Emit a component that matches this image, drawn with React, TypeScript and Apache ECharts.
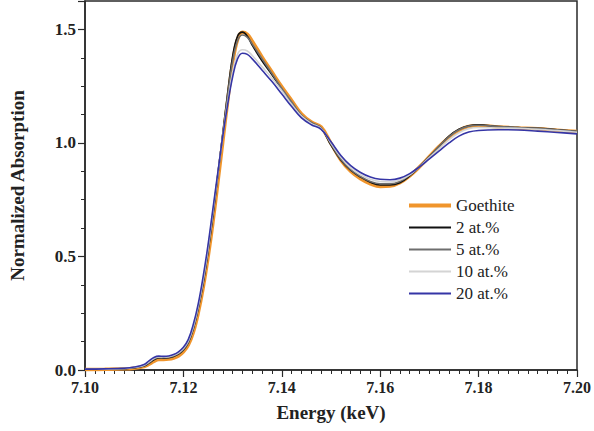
import React, { useEffect, useRef } from "react";
import * as echarts from "echarts";

const energies = [
  7.100, 7.104, 7.108, 7.110, 7.112, 7.113, 7.114, 7.115, 7.116, 7.117, 7.118, 7.119,
  7.120, 7.121, 7.122, 7.123, 7.124, 7.125, 7.126, 7.127, 7.128, 7.129, 7.130, 7.131,
  7.132, 7.133, 7.134, 7.136, 7.138, 7.140, 7.142, 7.144, 7.146, 7.148, 7.150, 7.152,
  7.154, 7.156, 7.158, 7.160, 7.162, 7.164, 7.166, 7.168, 7.170, 7.172, 7.174, 7.176,
  7.178, 7.180, 7.184, 7.188, 7.192, 7.196, 7.200,
];

const goethite = [
  0.002, 0.003, 0.005, 0.008, 0.015, 0.025, 0.038, 0.046, 0.046, 0.048, 0.053, 0.062,
  0.08, 0.11, 0.165, 0.25, 0.36, 0.495, 0.65, 0.825, 1.005, 1.185, 1.35, 1.455,
  1.487, 1.478, 1.448, 1.378, 1.312, 1.247, 1.187, 1.128, 1.092, 1.07, 0.998, 0.925,
  0.875, 0.842, 0.82, 0.808, 0.81, 0.825, 0.855, 0.895, 0.94, 0.985, 1.025, 1.055,
  1.072, 1.076, 1.07, 1.066, 1.062, 1.056, 1.05,
];

const at2 = [
  0.003, 0.004, 0.006, 0.010, 0.018, 0.030, 0.045, 0.053, 0.052, 0.054, 0.060, 0.070,
  0.088, 0.12, 0.18, 0.27, 0.38, 0.52, 0.68, 0.86, 1.04, 1.22, 1.38, 1.47,
  1.488, 1.47, 1.43, 1.36, 1.30, 1.235, 1.175, 1.12, 1.088, 1.065, 0.99, 0.925,
  0.88, 0.85, 0.827, 0.815, 0.815, 0.825, 0.855, 0.895, 0.94, 0.985, 1.03, 1.06,
  1.076, 1.08, 1.072, 1.068, 1.064, 1.058, 1.05,
];

const at5 = [
  0.003, 0.004, 0.006, 0.010, 0.019, 0.032, 0.048, 0.055, 0.054, 0.056, 0.062, 0.072,
  0.09, 0.122, 0.182, 0.272, 0.385, 0.525, 0.685, 0.86, 1.035, 1.21, 1.36, 1.45,
  1.475, 1.465, 1.435, 1.37, 1.305, 1.24, 1.18, 1.122, 1.09, 1.066, 0.995, 0.928,
  0.882, 0.852, 0.83, 0.82, 0.82, 0.83, 0.858, 0.897, 0.94, 0.985, 1.028, 1.058,
  1.074, 1.078, 1.072, 1.068, 1.064, 1.058, 1.051,
];

const at10 = [
  0.003, 0.004, 0.007, 0.012, 0.021, 0.036, 0.051, 0.058, 0.057, 0.059, 0.065, 0.076,
  0.095, 0.128, 0.19, 0.28, 0.395, 0.535, 0.70, 0.865, 1.03, 1.18, 1.31, 1.39,
  1.41, 1.405, 1.385, 1.335, 1.285, 1.23, 1.17, 1.118, 1.085, 1.063, 1.0, 0.937,
  0.89, 0.86, 0.84, 0.83, 0.828, 0.837, 0.86, 0.895, 0.935, 0.975, 1.015, 1.045,
  1.063, 1.068, 1.066, 1.064, 1.06, 1.054, 1.047,
];

const at20 = [
  0.004, 0.005, 0.008, 0.013, 0.024, 0.04, 0.055, 0.061, 0.06, 0.062, 0.068, 0.08,
  0.10, 0.135, 0.20, 0.29, 0.41, 0.55, 0.71, 0.87, 1.03, 1.17, 1.29, 1.37,
  1.395, 1.39, 1.37, 1.32, 1.27, 1.215, 1.16, 1.11, 1.08, 1.06, 1.005, 0.945,
  0.9, 0.87, 0.85, 0.84, 0.838, 0.845, 0.865, 0.895, 0.93, 0.965, 1.0, 1.03,
  1.048, 1.055, 1.058, 1.057, 1.052, 1.046, 1.04,
];

const seriesNames = ["Goethite", "2 at.%", "5 at.%", "10 at.%", "20 at.%"];
const seriesValues = [goethite, at2, at5, at10, at20];
const seriesColors = ["#f0952c", "#111111", "#6e6e6e", "#d4d4d4", "#3535a6"];
const seriesWidths = [3.5, 1.6, 1.6, 1.6, 1.6];

const xTicks = { min: 7.1, max: 7.2, interval: 0.02 };
const yTicks = { min: 0, max: 1.625, interval: 0.5 };

const FONT = "Times New Roman";

export default function App() {
  const ref = useRef<HTMLDivElement>(null);

  useEffect(() => {
    if (!ref.current) return;
    const chart = echarts.init(ref.current, undefined, { renderer: "svg" });
    const axisColor = "#2a2a2a";
    const option = {
      animation: false,
      backgroundColor: "#ffffff",
      textStyle: { fontFamily: FONT },
      grid: {
        left: 80,
        right: 15,
        top: 1,
        bottom: 61,
        show: true,
        borderColor: axisColor,
        borderWidth: 1.5,
        backgroundColor: "transparent",
      },
      legend: [
        {
          data: [seriesNames[0]],
          orient: "vertical",
          left: 404,
          top: 192,
          icon: "rect",
          itemWidth: 42,
          itemHeight: 4,
          itemGap: 5,
          textStyle: { fontFamily: FONT, fontSize: 17, color: "#222", lineHeight: 17 },
        },
        {
          data: seriesNames.slice(1),
          orient: "vertical",
          left: 404,
          top: 214,
          icon: "rect",
          itemWidth: 42,
          itemHeight: 2,
          itemGap: 5,
          textStyle: { fontFamily: FONT, fontSize: 17, color: "#222", lineHeight: 17 },
        },
      ],
      xAxis: {
        type: "value",
        min: xTicks.min,
        max: xTicks.max,
        interval: xTicks.interval,
        name: "Energy (keV)",
        nameLocation: "middle",
        nameGap: 33,
        nameTextStyle: { fontFamily: FONT, fontSize: 19, fontWeight: "bold", color: "#222" },
        axisLine: { show: true, lineStyle: { color: axisColor, width: 1.5 } },
        axisTick: { show: true, inside: false, length: 7, lineStyle: { color: axisColor, width: 1.2 } },
        minorTick: { show: true, splitNumber: 10, length: 4, lineStyle: { color: axisColor, width: 1 } },
        splitLine: { show: false },
        axisLabel: {
          fontFamily: FONT,
          fontSize: 16,
          fontWeight: "bold",
          color: "#222",
          margin: 9,
          formatter: (v: number) => v.toFixed(2),
        },
      },
      yAxis: {
        type: "value",
        min: yTicks.min,
        max: yTicks.max,
        interval: yTicks.interval,
        name: "Normalized Absorption",
        nameLocation: "middle",
        nameGap: 58,
        nameTextStyle: { fontFamily: FONT, fontSize: 19, fontWeight: "bold", color: "#222" },
        axisLine: { show: true, lineStyle: { color: axisColor, width: 1.5 } },
        axisTick: { show: true, inside: false, length: 7, lineStyle: { color: axisColor, width: 1.2 } },
        minorTick: { show: true, splitNumber: 4, length: 4, lineStyle: { color: axisColor, width: 1 } },
        splitLine: { show: false },
        axisLabel: {
          fontFamily: FONT,
          fontSize: 17,
          fontWeight: "bold",
          color: "#222",
          margin: 9,
          showMaxLabel: false,
          formatter: (v: number) => v.toFixed(1),
        },
      },
      series: seriesNames.map((name, i) => ({
        name,
        type: "line",
        smooth: 0.4,
        showSymbol: false,
        symbol: "none",
        color: seriesColors[i],
        lineStyle: { color: seriesColors[i], width: seriesWidths[i] },
        itemStyle: { color: seriesColors[i] },
        z: 2 + i,
        data: energies.map((e, k) => [e, seriesValues[i][k]]),
      })),
    };
    chart.setOption(option as any);
    return () => chart.dispose();
  }, []);

  return (
    <div
      ref={ref}
      style={{ position: "absolute", left: 0, top: 0, width: 594, height: 431 }}
    />
  );
}
